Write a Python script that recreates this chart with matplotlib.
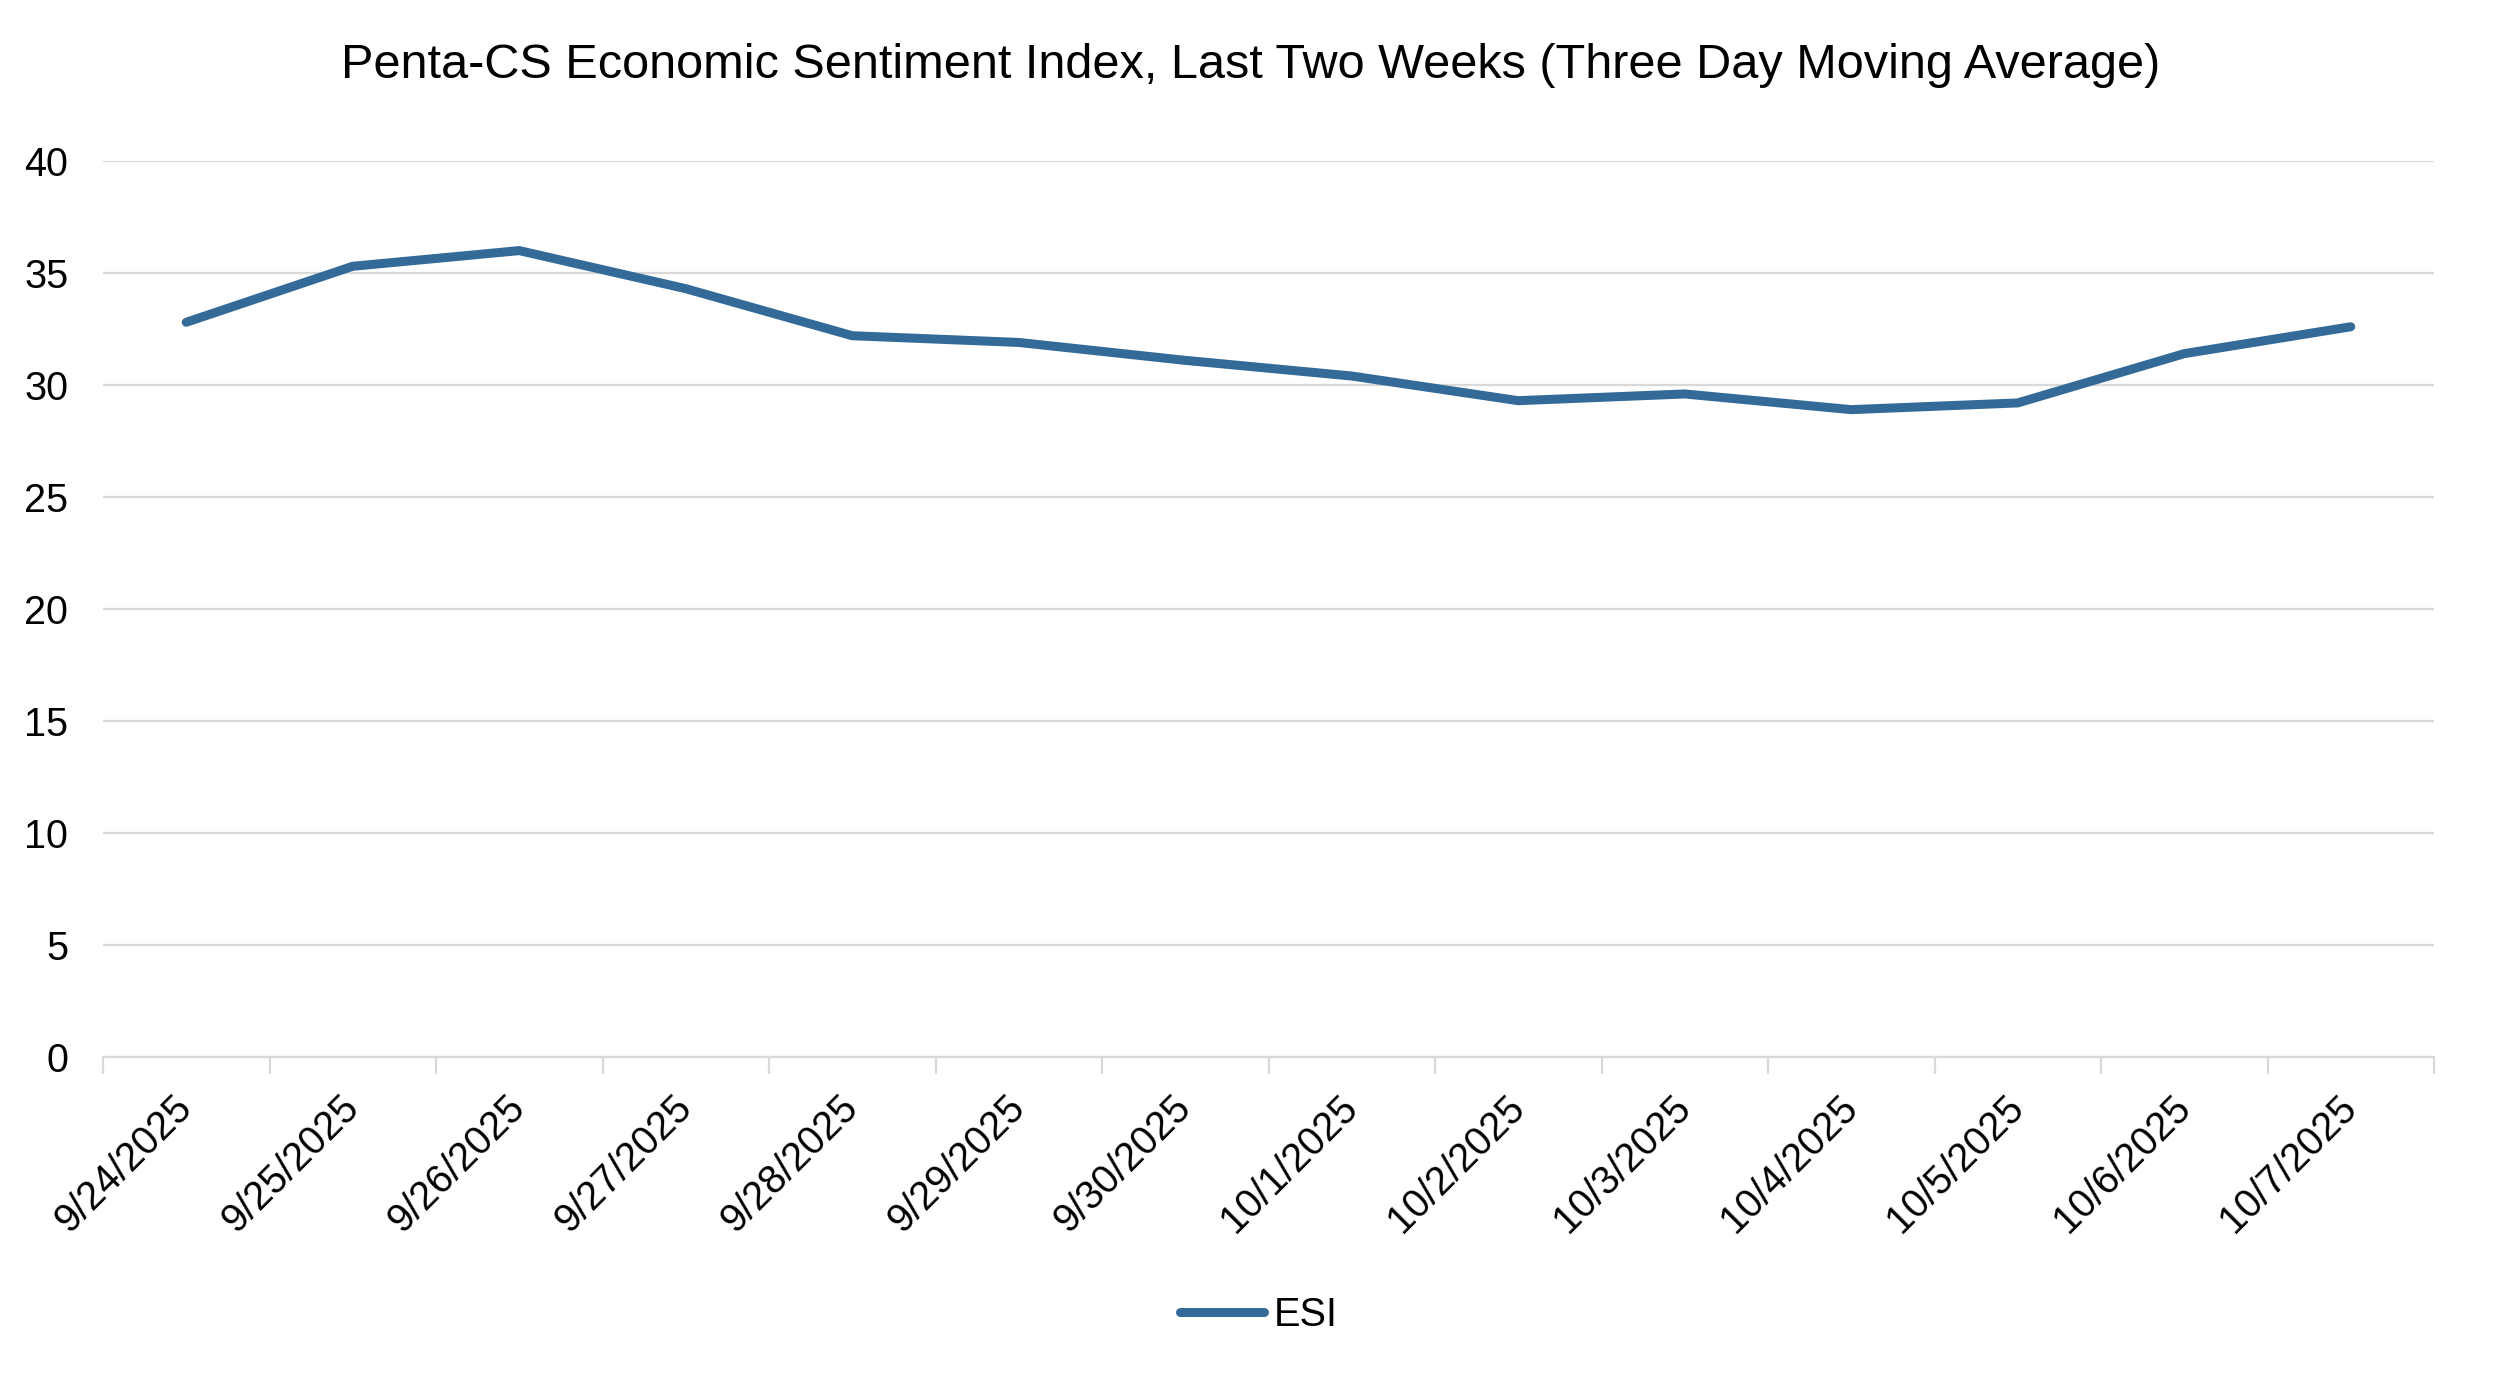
import matplotlib
matplotlib.use("Agg")
import matplotlib.pyplot as plt
import numpy as np

dates = ["9/24/2025", "9/25/2025", "9/26/2025", "9/27/2025", "9/28/2025",
         "9/29/2025", "9/30/2025", "10/1/2025", "10/2/2025", "10/3/2025",
         "10/4/2025", "10/5/2025", "10/6/2025", "10/7/2025"]
esi = [32.8, 35.3, 36.0, 34.3, 32.2, 31.9, 31.1, 30.4, 29.3, 29.6, 28.9, 29.2, 31.4, 32.6]
yticks = [0, 5, 10, 15, 20, 25, 30, 35, 40]

plt.rcParams['font.family'] = ['Liberation Sans', 'DejaVu Sans']

W, H = 2501, 1380
fig = plt.figure(figsize=(W / 100, H / 100), dpi=100)
L, R, T, B = 103, 2434, 161, 1057
ax = fig.add_axes([L / W, 1 - B / H, (R - L) / W, (B - T) / H])

line_color = "#336A97"
grid_color = "#D9D9D9"
fs = 28.5

x = np.arange(len(dates))
ax.plot(x, esi, color=line_color, lw=6.5, solid_capstyle='round',
        solid_joinstyle='miter', label="ESI", zorder=3)

ax.set_xlim(-0.5, len(dates) - 0.5)
ax.set_ylim(0, 40)
ax.set_yticks(yticks)
ax.set_yticklabels([str(v) for v in yticks], fontsize=fs)
ax.yaxis.grid(True, color=grid_color, lw=1.6)
ax.set_axisbelow(True)
ax.tick_params(axis='y', length=0, pad=25)

for s in ['top', 'right', 'left']:
    ax.spines[s].set_visible(False)
ax.spines['bottom'].set_color(grid_color)
ax.spines['bottom'].set_linewidth(1.6)

# boundary ticks (category axis "between" style)
ax.set_xticks(np.arange(-0.5, len(dates), 1.0), minor=False)
ax.set_xticklabels([])
ax.tick_params(axis='x', which='major', length=12, width=1.6, color=grid_color, direction='out')
ax.set_xticks(x, minor=True)
ax.set_xticklabels(dates, minor=True, rotation=45, ha='right', va='center',
                   rotation_mode='anchor', fontsize=fs)
ax.tick_params(axis='x', which='minor', length=0, pad=32)

fig.suptitle("Penta-CS Economic Sentiment Index, Last Two Weeks (Three Day Moving Average)",
             x=0.5, y=1 - 65 / H, va='center', fontsize=35)

leg = fig.legend(loc='center', bbox_to_anchor=(1259 / W, 1 - 1315 / H), frameon=False,
                 fontsize=fs, handlelength=2.1, handletextpad=0.25)

fig.savefig("out.png", dpi=100)
